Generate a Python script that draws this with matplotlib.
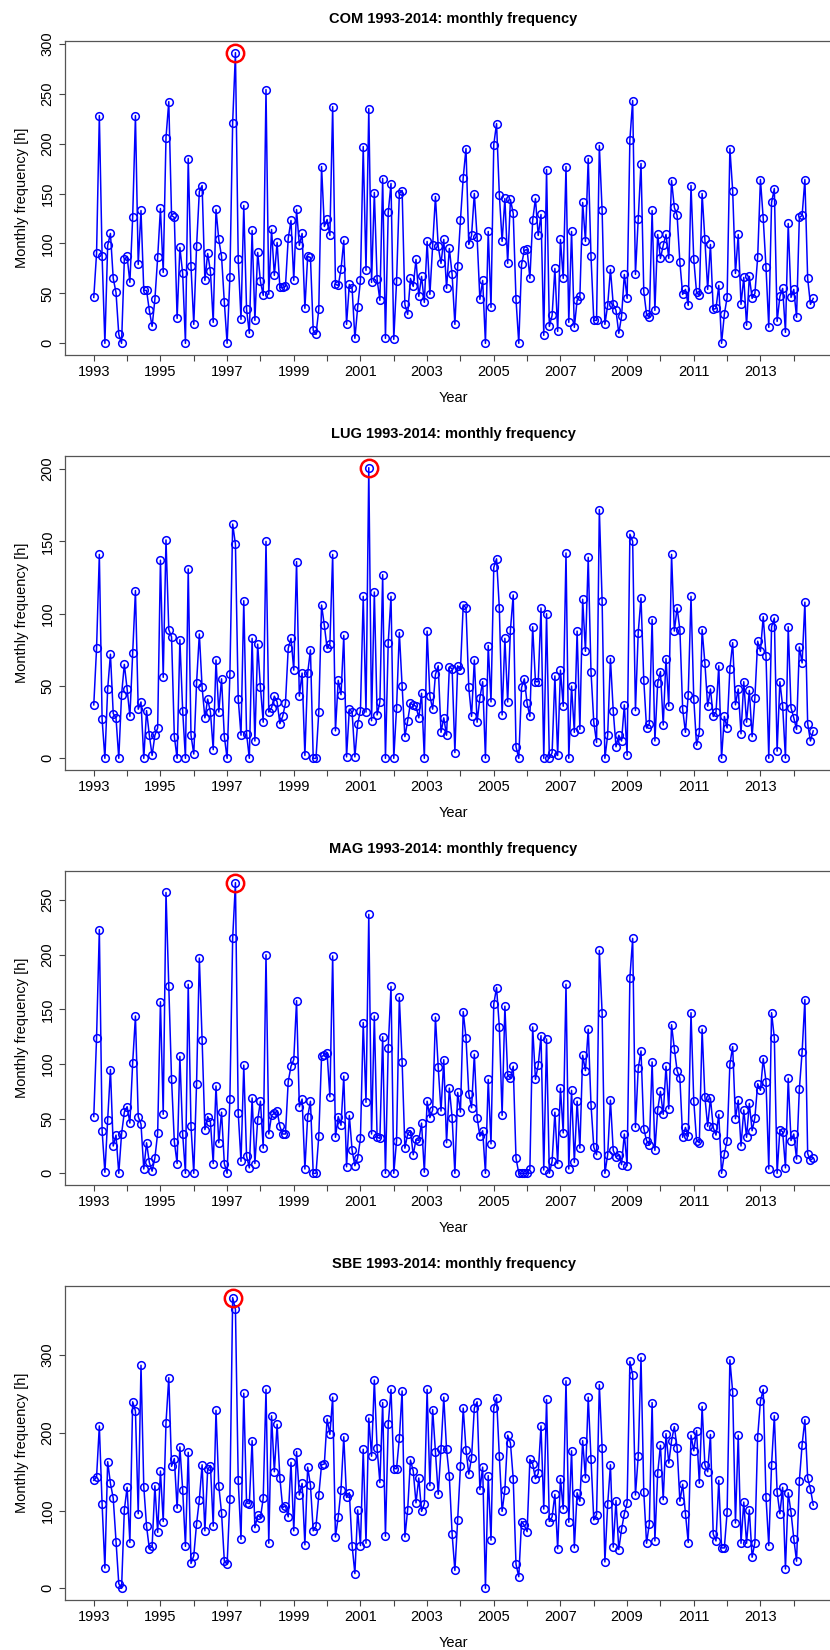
import numpy as np
import matplotlib
matplotlib.use('Agg')
import matplotlib.pyplot as plt

plt.rcParams['font.family'] = ['Liberation Sans', 'DejaVu Sans']

# Monthly frequency [h] per station, Jan 1993 - Aug 2014
com = [46, 90, 228, 87, 0, 98, 110, 65, 51, 9, 0, 84,
       87, 61, 126, 228, 79, 133, 53, 53, 33, 17, 44, 86,
       135, 71, 206, 242, 128, 126, 25, 96, 70, 0, 185, 77,
       19, 97, 152, 158, 63, 90, 72, 21, 134, 104, 87, 41,
       0, 66, 221, 291, 84, 24, 138, 34, 10, 113, 23, 91,
       62, 48, 254, 49, 114, 68, 101, 56, 56, 57, 105, 123,
       63, 134, 98, 110, 35, 87, 86, 13, 9, 34, 177, 117,
       124, 108, 237, 59, 58, 74, 103, 19, 59, 55, 5, 36,
       63, 197, 73, 235, 61, 151, 64, 43, 165, 5, 131, 160,
       4, 62, 150, 153, 39, 29, 65, 57, 84, 47, 67, 41,
       102, 49, 98, 147, 97, 80, 104, 55, 95, 69, 19, 77,
       123, 166, 195, 99, 108, 150, 106, 44, 63, 0, 112, 36,
       199, 220, 149, 102, 145, 80, 144, 130, 44, 0, 79, 93,
       94, 65, 123, 145, 108, 129, 8, 174, 17, 28, 75, 12,
       104, 65, 177, 21, 112, 16, 43, 47, 141, 102, 185, 87,
       23, 23, 198, 133, 19, 38, 74, 39, 33, 10, 27, 69,
       45, 204, 243, 69, 124, 180, 52, 29, 26, 133, 33, 109,
       85, 98, 109, 85, 163, 136, 128, 81, 49, 54, 38, 158,
       84, 51, 48, 150, 104, 54, 99, 34, 35, 58, 0, 29,
       46, 195, 153, 70, 109, 39, 66, 18, 67, 45, 50, 86,
       164, 125, 76, 16, 141, 155, 22, 47, 55, 11, 120, 46,
       54, 26, 126, 128, 164, 65, 39, 45]

lug = [37, 76, 141, 27, 0, 48, 72, 31, 28, 0, 44, 65,
       48, 29, 73, 116, 34, 39, 0, 33, 16, 2, 16, 21,
       137, 56, 151, 89, 84, 15, 0, 82, 33, 0, 131, 16,
       3, 52, 86, 49, 28, 41, 32, 6, 68, 32, 55, 15,
       0, 58, 162, 148, 41, 16, 109, 17, 0, 83, 12, 79,
       49, 25, 150, 32, 35, 43, 39, 24, 29, 38, 76, 83,
       61, 136, 43, 59, 2, 59, 75, 0, 0, 32, 106, 92,
       76, 79, 141, 19, 54, 44, 85, 1, 34, 32, 1, 24,
       33, 112, 32, 201, 26, 115, 30, 39, 127, 0, 80, 112,
       0, 35, 87, 50, 15, 26, 38, 37, 36, 28, 45, 0,
       88, 43, 34, 58, 64, 18, 28, 16, 63, 62, 4, 64,
       61, 106, 104, 49, 29, 68, 25, 42, 53, 0, 78, 39,
       132, 138, 104, 30, 83, 39, 89, 113, 8, 0, 49, 55,
       38, 29, 91, 53, 53, 104, 0, 100, 0, 4, 57, 2,
       61, 36, 142, 0, 50, 18, 88, 20, 110, 74, 139, 60,
       25, 11, 172, 109, 0, 16, 69, 33, 8, 16, 12, 37,
       2, 155, 150, 33, 87, 111, 54, 21, 24, 96, 12, 52,
       60, 23, 69, 36, 141, 88, 104, 89, 34, 18, 44, 112,
       41, 9, 18, 89, 66, 36, 48, 29, 32, 64, 0, 29,
       21, 62, 80, 37, 48, 17, 53, 25, 47, 15, 42, 81,
       74, 98, 71, 0, 91, 97, 5, 53, 36, 0, 91, 35,
       28, 20, 77, 66, 108, 24, 12, 19]

mag = [52, 124, 223, 39, 1, 49, 95, 25, 35, 0, 36, 56,
       61, 46, 101, 144, 52, 45, 4, 28, 10, 2, 14, 37,
       157, 54, 257, 171, 86, 29, 9, 107, 36, 0, 173, 43,
       0, 82, 197, 122, 40, 52, 47, 9, 80, 28, 56, 9,
       0, 68, 215, 266, 55, 11, 99, 16, 5, 69, 9, 49,
       66, 23, 200, 36, 53, 55, 57, 43, 36, 36, 84, 98,
       104, 158, 61, 68, 4, 52, 66, 0, 0, 34, 107, 108,
       110, 70, 199, 33, 52, 44, 89, 6, 53, 21, 7, 14,
       32, 138, 65, 237, 36, 144, 33, 32, 125, 0, 115, 171,
       0, 30, 161, 102, 23, 36, 39, 17, 31, 30, 46, 1,
       66, 51, 58, 143, 97, 57, 104, 28, 78, 51, 0, 74,
       56, 148, 124, 73, 60, 109, 51, 34, 39, 0, 86, 27,
       155, 170, 134, 53, 153, 90, 87, 98, 14, 0, 0, 0,
       0, 4, 134, 86, 99, 126, 3, 123, 0, 11, 56, 9,
       78, 37, 173, 4, 76, 10, 66, 23, 108, 94, 132, 63,
       24, 17, 204, 147, 0, 17, 67, 21, 15, 17, 8, 36,
       7, 179, 215, 42, 96, 112, 41, 30, 26, 102, 21, 58,
       75, 54, 98, 59, 136, 114, 94, 87, 33, 42, 34, 147,
       66, 30, 28, 132, 70, 43, 69, 42, 35, 54, 0, 18,
       30, 100, 116, 50, 67, 25, 58, 33, 64, 39, 51, 82,
       76, 105, 84, 4, 147, 124, 0, 40, 38, 5, 87, 30,
       36, 13, 77, 111, 159, 18, 12, 14]

sbe = [139, 143, 209, 108, 26, 163, 135, 116, 60, 6, 0, 101,
       130, 59, 240, 228, 96, 287, 131, 80, 51, 54, 132, 72,
       151, 86, 213, 271, 157, 167, 103, 182, 127, 54, 175, 32,
       42, 83, 114, 159, 74, 153, 158, 80, 229, 132, 97, 35,
       31, 115, 374, 359, 139, 63, 251, 110, 109, 190, 78, 94,
       91, 116, 256, 58, 222, 150, 211, 142, 104, 106, 92, 162,
       74, 176, 120, 135, 56, 156, 133, 74, 80, 120, 159, 160,
       218, 198, 246, 66, 92, 127, 195, 117, 123, 55, 19, 101,
       55, 179, 58, 219, 170, 268, 180, 136, 239, 67, 211, 256,
       154, 154, 193, 254, 66, 101, 165, 151, 110, 142, 99, 109,
       256, 132, 230, 175, 121, 179, 246, 179, 144, 70, 23, 88,
       157, 232, 178, 147, 168, 232, 240, 127, 156, 0, 145, 62,
       232, 245, 170, 99, 127, 197, 187, 141, 31, 15, 86, 81,
       73, 166, 160, 141, 148, 209, 102, 243, 86, 92, 121, 51,
       141, 102, 267, 85, 177, 52, 123, 112, 190, 142, 246, 167,
       88, 95, 262, 181, 34, 108, 159, 53, 113, 50, 76, 96,
       110, 292, 275, 120, 170, 297, 124, 58, 83, 239, 61, 148,
       184, 114, 199, 161, 190, 208, 181, 112, 134, 96, 59, 197,
       177, 203, 135, 234, 159, 150, 198, 70, 61, 139, 52, 52,
       98, 294, 253, 84, 197, 58, 111, 58, 101, 40, 59, 195,
       241, 256, 117, 55, 159, 222, 124, 96, 130, 25, 123, 98,
       64, 35, 138, 185, 217, 142, 128, 107]

stations = ['COM', 'LUG', 'MAG', 'SBE']
series = [com, lug, mag, sbe]
y_steps = [50, 50, 50, 100]
years = list(range(1993, 2015))
year_labels = [str(y) if y % 2 == 1 else '' for y in years]

W, H = 830, 1650
fig = plt.figure(figsize=(W / 100, H / 100), dpi=100)

# panel boxes in pixels: left, top, width, height
left, width, height = 65, 777, 314
tops = [41, 456, 871, 1286]

for name, values, step, top in zip(stations, series, y_steps, tops):
    ax = fig.add_axes([left / W, 1 - (top + height) / H, width / W, height / H])
    values = np.array(values, dtype=float)
    t = 1993 + np.arange(len(values)) / 12.0

    ax.plot(t, values, '-', color='blue', lw=1.1, zorder=2)
    ax.plot(t, values, 'o', mfc='none', mec='blue', ms=5.5, mew=1.1, zorder=3)

    # mark the highest month
    k = int(np.argmax(values))
    ax.plot(t[k], values[k], 'o', mfc='none', mec='red', ms=12.5, mew=1.8, zorder=4)

    ax.margins(x=0.04, y=0.04)
    ax.set_xticks(years)
    ax.set_xticklabels(year_labels)
    ymax = ax.get_ylim()[1]
    ax.set_yticks(np.arange(0, ymax, step))

    ax.tick_params(direction='out', length=4.5, width=0.8, color='#444444',
                   labelsize=10.5, pad=3)
    ax.tick_params(axis='y', labelrotation=90)
    for lab in ax.get_yticklabels():
        lab.set_va('center')
    for sp in ax.spines.values():
        sp.set_color('#555555')
        sp.set_linewidth(0.9)

    ax.set_title(f'{name} 1993-2014: monthly frequency', fontsize=10.5,
                 fontweight='bold', pad=13)
    ax.set_xlabel('Year', fontsize=10.5, labelpad=8)
    ax.set_ylabel('Monthly frequency [h]', fontsize=10.5, labelpad=8)

fig.savefig('out.png', dpi=100)
